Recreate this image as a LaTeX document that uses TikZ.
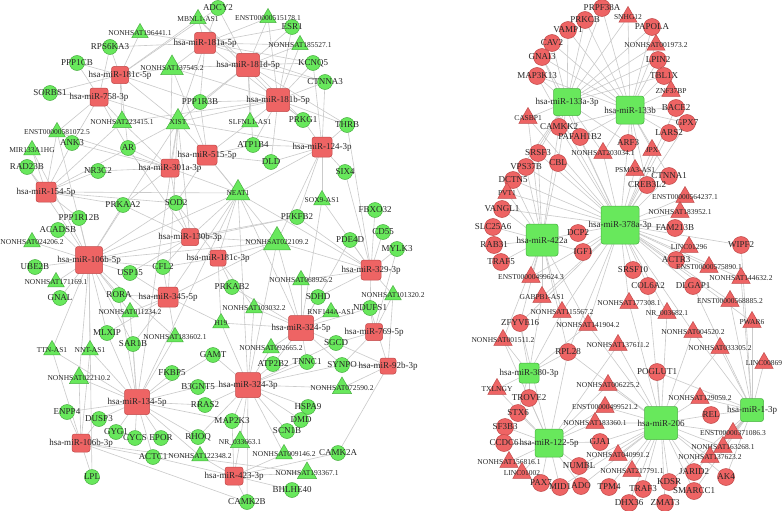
\documentclass[tikz,border=0pt]{standalone}
\usepackage{fontspec}
\setmainfont{Liberation Serif}
\usetikzlibrary{shapes.geometric}
\definecolor{gfill}{HTML}{68E85C}
\definecolor{gline}{HTML}{48B040}
\definecolor{rfill}{HTML}{EE6464}
\definecolor{rline}{HTML}{C04848}
\definecolor{eline}{HTML}{CACACA}
\definecolor{txt}{HTML}{262626}
\pgfdeclarelayer{bg}
\pgfsetlayers{bg,main}
\newcommand\nlab[1]{\makebox[0pt]{#1}}
\tikzset{
 base/.style={inner sep=0pt, outer sep=0pt, line width=0.5pt, text=txt},
 gC/.style={base, circle, fill=gfill, draw=gline, minimum size=15pt, font=\fontsize{9}{9}\selectfont},
 rC/.style={base, circle, fill=rfill, draw=rline, minimum size=17pt, font=\fontsize{9}{9}\selectfont},
 gT/.style={base, regular polygon, regular polygon sides=3, fill=gfill, draw=gline, minimum size=#1, font=\fontsize{7.5}{7.5}\selectfont},
 gT/.default=19pt,
 rT/.style={base, regular polygon, regular polygon sides=3, fill=rfill, draw=rline, minimum size=#1, font=\fontsize{7.5}{7.5}\selectfont},
 rT/.default=21pt,
 rS/.style={base, rectangle, rounded corners=2.5pt, fill=rfill, draw=rline, minimum size=#1, font=\fontsize{9}{9}\selectfont},
 gS/.style={base, rectangle, rounded corners=2.5pt, fill=gfill, draw=gline, minimum size=#1, font=\fontsize{9}{9}\selectfont},
 edge/.style={draw=eline, line width=0.6pt},
}
\begin{document}
\begin{tikzpicture}[x=1pt,y=-1pt]
\begin{pgfonlayer}{bg}
\fill[white] (0,0) rectangle (784,511);
\end{pgfonlayer}
\useasboundingbox (0,0) rectangle (784,511);
% ---------------- left network: genes ----------------
\node[gC] (adcy2) at (218,8) {\nlab{ADCY2}};
\node[gC] (esr1) at (292,27) {\nlab{ESR1}};
\node[gC] (rps6ka3) at (110,47) {\nlab{RPS6KA3}};
\node[gC] (ppp1cb) at (77,63) {\nlab{PPP1CB}};
\node[gC] (kcnq5) at (313,63) {\nlab{KCNQ5}};
\node[gC] (ctnna3) at (325,82) {\nlab{CTNNA3}};
\node[gC] (sorbs1) at (50,93) {\nlab{SORBS1}};
\node[gC] (ppp1r3b) at (200,102) {\nlab{PPP1R3B}};
\node[gC] (prkg1) at (303,120) {\nlab{PRKG1}};
\node[gC] (thrb) at (347,125) {\nlab{THRB}};
\node[gC] (ank3) at (72,143) {\nlab{ANK3}};
\node[gC] (atp1b4) at (253,145) {\nlab{ATP1B4}};
\node[gC] (ar) at (128,148) {\nlab{AR}};
\node[gC] (dld) at (271,162) {\nlab{DLD}};
\node[gC] (rad23b) at (27,167) {\nlab{RAD23B}};
\node[gC] (nr3c2) at (98,171) {\nlab{NR3C2}};
\node[gC] (six4) at (345,172) {\nlab{SIX4}};
\node[gC] (prkaa2) at (123,205) {\nlab{PRKAA2}};
\node[gC] (sod2) at (176,203) {\nlab{SOD2}};
\node[gC] (fbxo32) at (375,210) {\nlab{FBXO32}};
\node[gC] (pfkfb2) at (297,217) {\nlab{PFKFB2}};
\node[gC] (ppp1r12b) at (79,218) {\nlab{PPP1R12B}};
\node[gC] (acadsb) at (58,230) {\nlab{ACADSB}};
\node[gC] (cd55) at (383,232) {\nlab{CD55}};
\node[gC] (pde4d) at (350,240) {\nlab{PDE4D}};
\node[gC] (mylk3) at (397,249) {\nlab{MYLK3}};
\node[gC] (ube2b) at (35,267) {\nlab{UBE2B}};
\node[gC] (cfl2) at (163,267) {\nlab{CFL2}};
\node[gC] (usp15) at (130,273) {\nlab{USP15}};
\node[gC] (prkab2) at (232,287) {\nlab{PRKAB2}};
\node[gC] (rora) at (119,295) {\nlab{RORA}};
\node[gC] (sdhd) at (318,297) {\nlab{SDHD}};
\node[gC] (gnal) at (60,298) {\nlab{GNAL}};
\node[gC] (ndufs1) at (370,308) {\nlab{NDUFS1}};
\node[gC] (mlxip) at (107,333) {\nlab{MLXIP}};
\node[gC] (sgcd) at (336,343) {\nlab{SGCD}};
\node[gC] (sar1b) at (133,344) {\nlab{SAR1B}};
\node[gC] (gamt) at (213,355) {\nlab{GAMT}};
\node[gC] (tnnc1) at (307,362) {\nlab{TNNC1}};
\node[gC] (atp2b2) at (273,364) {\nlab{ATP2B2}};
\node[gC] (synpo) at (342,365) {\nlab{SYNPO}};
\node[gC] (fkbp5) at (172,373) {\nlab{FKBP5}};
\node[gC] (b3gnt5) at (198,387) {\nlab{B3GNT5}};
\node[gC] (rras2) at (205,405) {\nlab{RRAS2}};
\node[gC] (hspa9) at (308,407) {\nlab{HSPA9}};
\node[gC] (enpp4) at (67,412) {\nlab{ENPP4}};
\node[gC] (dusp3) at (99,419) {\nlab{DUSP3}};
\node[gC] (dmd) at (301,420) {\nlab{DMD}};
\node[gC] (map2k3) at (232,421) {\nlab{MAP2K3}};
\node[gC] (gyg1) at (116,432) {\nlab{GYG1}};
\node[gC] (scn1b) at (287,431) {\nlab{SCN1B}};
\node[gC] (rhoq) at (198,437) {\nlab{RHOQ}};
\node[gC] (cycs) at (135,438) {\nlab{CYCS}};
\node[gC] (epor) at (161,438) {\nlab{EPOR}};
\node[gC] (camk2a) at (338,453) {\nlab{CAMK2A}};
\node[gC] (actc1) at (153,457) {\nlab{ACTC1}};
\node[gC] (lpl) at (92,477) {\nlab{LPL}};
\node[gC] (bhlhe40) at (292,490) {\nlab{BHLHE40}};
\node[gC] (camk2b) at (247,502) {\nlab{CAMK2B}};
% ---------------- left network: lncRNAs ----------------
\node[gT] (mbnl1as1) at (198,19) {\nlab{MBNL1-AS1}};
\node[gT] (enst515178) at (268,18) {\nlab{ENST00000515178.1}};
\node[gT] (n196441) at (140,33) {\nlab{NONHSAT196441.1}};
\node[gT] (n185527) at (300,45) {\nlab{NONHSAT185527.1}};
\node[gT=26pt] (n137545) at (172,68) {\nlab{NONHSAT137545.2}};
\node[gT=27pt] (xist) at (178,122) {\nlab{XIST}};
\node[gT=22pt] (n223415) at (122,122) {\nlab{NONHSAT223415.1}};
\node[gT] (slfnl1as1) at (250,122) {\nlab{SLFNL1-AS1}};
\node[gT] (enst581072) at (57,132) {\nlab{ENST00000581072.5}};
\node[gT] (mir133a1hg) at (32,150) {\nlab{MIR133A1HG}};
\node[gT=27pt] (neat1) at (238,193) {\nlab{NEAT1}};
\node[gT] (sox9as1) at (322,200) {\nlab{SOX9-AS1}};
\node[gT] (n024206) at (32,242) {\nlab{NONHSAT024206.2}};
\node[gT=31pt] (n022109) at (277,242) {\nlab{NONHSAT022109.2}};
\node[gT] (n068926) at (301,280) {\nlab{NONHSAT068926.2}};
\node[gT] (n171169) at (56,282) {\nlab{NONHSAT171169.1}};
\node[gT] (n101320) at (393,295) {\nlab{NONHSAT101320.2}};
\node[gT] (n103032) at (254,308) {\nlab{NONHSAT103032.2}};
\node[gT] (rnf144aas1) at (331,312) {\nlab{RNF144A-AS1}};
\node[gT] (n011234) at (130,312) {\nlab{NONHSAT011234.2}};
\node[gT] (h19) at (221,323) {\nlab{H19}};
\node[gT] (n183602) at (175,337) {\nlab{NONHSAT183602.1}};
\node[gT] (n092665) at (271,348) {\nlab{NONHSAT092665.2}};
\node[gT] (ttnas1) at (52,350) {\nlab{TTN-AS1}};
\node[gT] (nntas1) at (90,350) {\nlab{NNT-AS1}};
\node[gT=22pt] (n022110) at (79,378) {\nlab{NONHSAT022110.2}};
\node[gT=22pt] (n072590) at (342,388) {\nlab{NONHSAT072590.2}};
\node[gT=22pt] (nr033663) at (240,442) {\nlab{NR\_033663.1}};
\node[gT] (n009146) at (284,454) {\nlab{NONHSAT009146.2}};
\node[gT] (n122348) at (200,456) {\nlab{NONHSAT122348.2}};
\node[gT=22pt] (n193367) at (307,473) {\nlab{NONHSAT193367.1}};
% ---------------- left network: miRNAs ----------------
\node[rS=21pt] (m181a5p) at (205,43) {\nlab{hsa-miR-181a-5p}};
\node[rS=17pt] (m181c5p) at (120,75) {\nlab{hsa-miR-181c-5p}};
\node[rS=23pt] (m181d5p) at (248,65) {\nlab{hsa-miR-181d-5p}};
\node[rS=18pt] (m758) at (99,97) {\nlab{hsa-miR-758-3p}};
\node[rS=23pt] (m181b5p) at (278,100) {\nlab{hsa-miR-181b-5p}};
\node[rS=20pt] (m515) at (207,155) {\nlab{hsa-miR-515-5p}};
\node[rS=20pt] (m124) at (322,147) {\nlab{hsa-miR-124-3p}};
\node[rS=18pt] (m301a) at (170,168) {\nlab{hsa-miR-301a-3p}};
\node[rS=20pt] (m154) at (46,192) {\nlab{hsa-miR-154-5p}};
\node[rS=17pt] (m130b) at (190,237) {\nlab{hsa-miR-130b-3p}};
\node[rS=16pt] (m181c3p) at (218,258) {\nlab{hsa-miR-181c-3p}};
\node[rS=27pt] (m106b5p) at (89,260) {\nlab{hsa-miR-106b-5p}};
\node[rS=20pt] (m329) at (371,270) {\nlab{hsa-miR-329-3p}};
\node[rS=20pt] (m345) at (168,297) {\nlab{hsa-miR-345-5p}};
\node[rS=25pt] (m324f) at (301,328) {\nlab{hsa-miR-324-5p}};
\node[rS=17pt] (m769) at (374,332) {\nlab{hsa-miR-769-5p}};
\node[rS=16pt] (m92b) at (388,366) {\nlab{hsa-miR-92b-3p}};
\node[rS=25pt] (m324t) at (248,385) {\nlab{hsa-miR-324-3p}};
\node[rS=25pt] (m134) at (137,402) {\nlab{hsa-miR-134-5p}};
\node[rS=18pt] (m106b3p) at (81,443) {\nlab{hsa-miR-106b-3p}};
\node[rS=18pt] (m423) at (234,476) {\nlab{hsa-miR-423-3p}};
% ---------------- right network: genes ----------------
\node[rC] (prpf38a) at (602,8) {\nlab{PRPF38A}};
\node[rC] (prkcb) at (585,20) {\nlab{PRKCB}};
\node[rC] (vamp1) at (568,30) {\nlab{VAMP1}};
\node[rC] (papola) at (652,27) {\nlab{PAPOLA}};
\node[rC] (cav2) at (552,43) {\nlab{CAV2}};
\node[rC] (gnai3) at (542,57) {\nlab{GNAI3}};
\node[rC] (lpin2) at (658,60) {\nlab{LPIN2}};
\node[rC] (map3k13) at (537,76) {\nlab{MAP3K13}};
\node[rC] (tbl1x) at (664,76) {\nlab{TBL1X}};
\node[rC] (bace2) at (676,108) {\nlab{BACE2}};
\node[rC] (gpx7) at (687,123) {\nlab{GPX7}};
\node[rC] (camkk2) at (559,127) {\nlab{CAMKK2}};
\node[rC] (lars2) at (669,133) {\nlab{LARS2}};
\node[rC] (pafah1b2) at (580,137) {\nlab{PAFAH1B2}};
\node[rC] (arf3) at (628,143) {\nlab{ARF3}};
\node[rC] (srsf3) at (538,153) {\nlab{SRSF3}};
\node[rC] (cbl) at (558,163) {\nlab{CBL}};
\node[rC] (vps37b) at (526,167) {\nlab{VPS37B}};
\node[rC] (ctnna1) at (669,176) {\nlab{CTNNA1}};
\node[rC] (dctn5) at (513,180) {\nlab{DCTN5}};
\node[rC] (creb3l2) at (647,185) {\nlab{CREB3L2}};
\node[rC] (vangl1) at (502,209) {\nlab{VANGL1}};
\node[rC] (slc25a6) at (493,227) {\nlab{SLC25A6}};
\node[rC] (fam213b) at (675,228) {\nlab{FAM213B}};
\node[rC] (dcp2) at (578,233) {\nlab{DCP2}};
\node[rC] (rab31) at (494,245) {\nlab{RAB31}};
\node[rC] (wipf2) at (741,245) {\nlab{WIPF2}};
\node[rC] (igf1) at (583,252) {\nlab{IGF1}};
\node[rC] (actr3) at (676,260) {\nlab{ACTR3}};
\node[rC] (traf5) at (501,262) {\nlab{TRAF5}};
\node[rC] (srsf10) at (633,270) {\nlab{SRSF10}};
\node[rC] (col6a2) at (648,286) {\nlab{COL6A2}};
\node[rC] (dlgap1) at (693,286) {\nlab{DLGAP1}};
\node[rC] (zfyve16) at (520,323) {\nlab{ZFYVE16}};
\node[rC] (rpl28) at (568,352) {\nlab{RPL28}};
\node[rC] (poglut1) at (657,372) {\nlab{POGLUT1}};
\node[rC] (trove2) at (529,398) {\nlab{TROVE2}};
\node[rC] (stx6) at (518,413) {\nlab{STX6}};
\node[rC] (rel) at (711,415) {\nlab{REL}};
\node[rC] (sf3b3) at (505,427) {\nlab{SF3B3}};
\node[rC] (gja1) at (600,442) {\nlab{GJA1}};
\node[rC] (ccdc6) at (504,443) {\nlab{CCDC6}};
\node[rC] (numbl) at (579,466) {\nlab{NUMBL}};
\node[rC] (jarid2) at (694,472) {\nlab{JARID2}};
\node[rC] (ak4) at (726,477) {\nlab{AK4}};
\node[rC] (pax7) at (541,483) {\nlab{PAX7}};
\node[rC] (kdsr) at (669,482) {\nlab{KDSR}};
\node[rC] (mid1) at (560,487) {\nlab{MID1}};
\node[rC] (ado) at (581,486) {\nlab{ADO}};
\node[rC] (tpm4) at (609,487) {\nlab{TPM4}};
\node[rC] (traf3) at (643,489) {\nlab{TRAF3}};
\node[rC] (smarcc1) at (694,491) {\nlab{SMARCC1}};
\node[rC] (zmat3) at (665,503) {\nlab{ZMAT3}};
\node[rC] (dhx36) at (629,503) {\nlab{DHX36}};
% ---------------- right network: lncRNAs ----------------
\node[rT] (snhg12) at (628,17) {\nlab{SNHG12}};
\node[rT] (n001973) at (656,45) {\nlab{NONHSAT001973.2}};
\node[rT] (znf37bp) at (671,91) {\nlab{ZNF37BP}};
\node[rT] (casbp1) at (528,118) {\nlab{CASBP1}};
\node[rT] (jpx) at (652,150) {\nlab{JPX}};
\node[rT] (n203034) at (603,153) {\nlab{NONHSAT203034.1}};
\node[rT] (psma3as1) at (635,170) {\nlab{PSMA3-AS1}};
\node[rT] (pvt1) at (507,193) {\nlab{PVT1}};
\node[rT] (enst564237) at (685,197) {\nlab{ENST00000564237.1}};
\node[rT] (n183952) at (680,212) {\nlab{NONHSAT183952.1}};
\node[rT] (linc01296) at (689,247) {\nlab{LINC01296}};
\node[rT] (enst575890) at (709,267) {\nlab{ENST00000575890.1}};
\node[rT] (enst499624) at (531,277) {\nlab{ENST00000499624.3}};
\node[rT] (n144632) at (741,278) {\nlab{NONHSAT144632.2}};
\node[rT] (gabpb1as1) at (542,297) {\nlab{GABPB1-AS1}};
\node[rT] (enst568885) at (730,301) {\nlab{ENST00000568885.2}};
\node[rT] (n177308) at (629,303) {\nlab{NONHSAT177308.1}};
\node[rT] (n115567) at (562,312) {\nlab{NONHSAT115567.2}};
\node[rT] (nr003682) at (667,313) {\nlab{NR\_003682.1}};
\node[rT] (pwar6) at (752,322) {\nlab{PWAR6}};
\node[rT] (n141904) at (588,325) {\nlab{NONHSAT141904.2}};
\node[rT] (n004520) at (693,332) {\nlab{NONHSAT004520.2}};
\node[rT] (n001511) at (503,340) {\nlab{NONHSAT001511.2}};
\node[rT] (n137611) at (618,345) {\nlab{NONHSAT137611.2}};
\node[rT] (n033305) at (720,348) {\nlab{NONHSAT033305.2}};
\node[rT] (linc00869) at (764,363) {\nlab{LINC00869}};
\node[rT] (n006225) at (608,385) {\nlab{NONHSAT006225.2}};
\node[rT] (txlngy) at (497,389) {\nlab{TXLNGY}};
\node[rT] (n129059) at (700,398) {\nlab{NONHSAT129059.2}};
\node[rT] (enst499521) at (605,407) {\nlab{ENST00000499521.2}};
\node[rT] (n183360) at (595,423) {\nlab{NONHSAT183360.1}};
\node[rT] (enst371086) at (733,433) {\nlab{ENST00000371086.3}};
\node[rT] (n163268) at (723,447) {\nlab{NONHSAT163268.1}};
\node[rT] (n040991) at (618,455) {\nlab{NONHSAT040991.2}};
\node[rT] (n137623) at (710,457) {\nlab{NONHSAT137623.2}};
\node[rT] (n156816) at (509,462) {\nlab{NONHSAT156816.1}};
\node[rT] (n217791) at (632,471) {\nlab{NONHSAT217791.1}};
\node[rT] (linc01002) at (522,473) {\nlab{LINC01002}};
% ---------------- right network: miRNAs ----------------
\node[gS=27pt] (r133a) at (567,102) {\nlab{hsa-miR-133a-3p}};
\node[gS=28pt] (r133b) at (630,110) {\nlab{hsa-miR-133b}};
\node[gS=32pt] (r422a) at (542,240) {\nlab{hsa-miR-422a}};
\node[gS=38pt] (r378a) at (620,225) {\nlab{hsa-miR-378a-3p}};
\node[gS=20pt] (r380) at (529,373) {\nlab{hsa-miR-380-3p}};
\node[gS=28pt] (r122) at (549,443) {\nlab{hsa-miR-122-5p}};
\node[gS=33pt] (r206) at (661,423) {\nlab{hsa-miR-206}};
\node[gS=23pt] (r1) at (752,410) {\nlab{hsa-miR-1-3p}};
% ---------------- connectors ----------------
\begin{pgfonlayer}{bg}
\foreach \s/\l in {
 m181a5p/{adcy2,mbnl1as1,enst515178,esr1,n196441,rps6ka3,n137545,kcnq5,ppp1r3b,xist,ctnna3,prkg1,n185527},
 m181c5p/{n196441,rps6ka3,ppp1cb,n137545,sorbs1,n223415,xist,ar,adcy2,mbnl1as1,ppp1r3b},
 m181d5p/{adcy2,mbnl1as1,enst515178,esr1,n185527,kcnq5,ctnna3,n137545,ppp1r3b,slfnl1as1,prkg1,xist,atp1b4,thrb},
 m181b5p/{esr1,n185527,kcnq5,ctnna3,ppp1r3b,slfnl1as1,prkg1,thrb,atp1b4,dld,n137545,xist,enst515178,n223415,mbnl1as1},
 m758/{sorbs1,ppp1cb,n223415,xist,ar,rps6ka3,enst581072,ank3},
 m515/{ppp1r3b,xist,atp1b4,dld,neat1,n022109,sod2,slfnl1as1,n137545},
 m124/{thrb,six4,prkg1,dld,neat1,xist,ctnna3,kcnq5,atp1b4,n022109,sox9as1,pfkfb2},
 m301a/{ar,nr3c2,xist,n223415,sod2,prkaa2,neat1,n137545,ank3,enst581072},
 m154/{rad23b,ank3,mir133a1hg,enst581072,nr3c2,prkaa2,sod2,n223415,ppp1r12b,xist,neat1},
 m130b/{neat1,prkaa2,sod2,cfl2,n022109,xist,pfkfb2,ar,usp15},
 m181c3p/{neat1,n022109,prkab2,h19,cfl2,n103032,sod2},
 m106b5p/{acadsb,ppp1r12b,n024206,ube2b,n171169,gnal,usp15,cfl2,rora,n011234,mlxip,sar1b,prkaa2,sod2,ttnas1,nntas1,neat1,xist,n022109,rad23b,mir133a1hg,enst581072,n022110,lpl,pfkfb2,n183602},
 m329/{fbxo32,cd55,pde4d,mylk3,n101320,ndufs1,six4,sox9as1,n022109,neat1,pfkfb2,sdhd,n068926,thrb},
 m345/{rora,cfl2,usp15,n183602,n011234,neat1,xist,h19,sar1b,mlxip,n022109},
 m324f/{sdhd,rnf144aas1,n068926,n103032,sgcd,n092665,prkab2,ndufs1,atp2b2,tnnc1,neat1,n022109,pde4d,h19,synpo,sox9as1},
 m769/{ndufs1,sgcd,n101320,synpo,mylk3},
 m92b/{synpo,n072590,camk2a,sgcd,ndufs1,n101320},
 m324t/{gamt,atp2b2,tnnc1,synpo,hspa9,dmd,scn1b,map2k3,nr033663,n009146,n072590,rras2,b3gnt5,n092665,h19,camk2b,rhoq,n022109,neat1,n103032,sgcd},
 m134/{fkbp5,b3gnt5,rras2,dusp3,gyg1,cycs,epor,rhoq,actc1,n022110,sar1b,mlxip,n183602,enpp4,gamt,n122348,map2k3,nntas1,ttnas1,neat1,xist,n011234,rora},
 m106b3p/{lpl,enpp4,n022110,dusp3,nntas1,actc1,n193367,camk2b,ttnas1},
 m423/{camk2b,bhlhe40,n193367,n009146,n122348,nr033663,camk2a,map2k3,actc1},
 r133a/{prpf38a,prkcb,vamp1,cav2,gnai3,map3k13,casbp1,camkk2,pafah1b2,srsf3,cbl,vps37b,snhg12,papola,n001973,lpin2,tbl1x,arf3,n203034,dctn5},
 r133b/{prpf38a,prkcb,vamp1,cav2,gnai3,map3k13,snhg12,papola,n001973,lpin2,tbl1x,znf37bp,bace2,gpx7,lars2,arf3,jpx,n203034,psma3as1,camkk2,pafah1b2,ctnna1,creb3l2},
 r378a/{casbp1,camkk2,pafah1b2,srsf3,cbl,vps37b,arf3,n203034,jpx,psma3as1,ctnna1,creb3l2,enst564237,n183952,fam213b,linc01296,actr3,wipf2,enst575890,n144632,srsf10,col6a2,dlgap1,n177308,nr003682,dctn5,pvt1,vangl1,dcp2,igf1,enst499624,gabpb1as1,n115567,n141904,n004520,enst568885,pwar6,zfyve16,rpl28,map3k13,gnai3,lars2,gpx7,bace2},
 r422a/{dctn5,pvt1,vangl1,slc25a6,rab31,traf5,dcp2,igf1,enst499624,gabpb1as1,n115567,zfyve16,n001511,vps37b,srsf3,cbl,camkk2,casbp1,n141904,rpl28},
 r380/{n001511,rpl28,txlngy,trove2,zfyve16,stx6,n115567,gabpb1as1,n141904},
 r122/{trove2,stx6,sf3b3,ccdc6,n156816,linc01002,pax7,mid1,ado,numbl,gja1,rpl28,n183360,enst499521,n006225,n137611,txlngy,zfyve16,n001511},
 r206/{poglut1,n006225,n129059,enst499521,rel,n183360,enst371086,gja1,n163268,n040991,n137623,n217791,jarid2,ak4,kdsr,tpm4,traf3,smarcc1,dhx36,zmat3,numbl,ado,mid1,n137611,n033305,n004520,rpl28,n141904,nr003682,n177308,col6a2},
 r1/{rel,n129059,enst371086,n163268,ak4,jarid2,linc00869,n033305,pwar6,n144632,enst568885,smarcc1,poglut1,n004520,wipf2,n137623,dlgap1,kdsr}}
 {\foreach \t in \l {\draw[edge] (\s) -- (\t);}}
\end{pgfonlayer}
\end{tikzpicture}
\end{document}
